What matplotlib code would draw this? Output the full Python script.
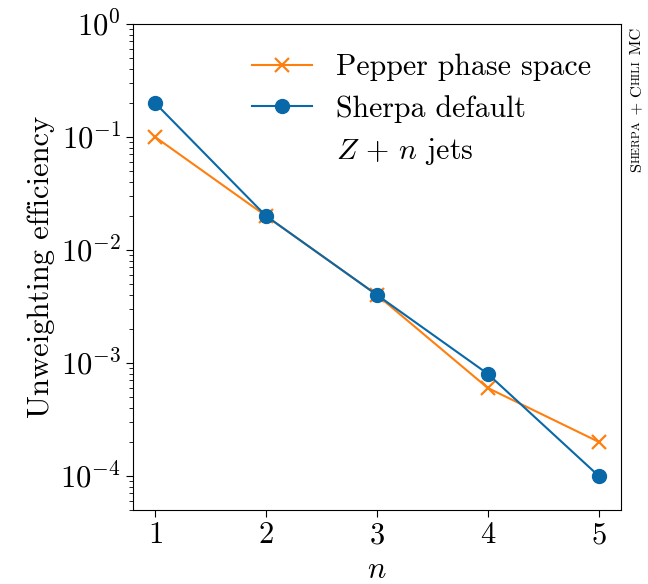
import matplotlib
matplotlib.use("Agg")
import matplotlib.pyplot as plt
from matplotlib.lines import Line2D

plt.rcParams["font.family"] = "cmr10"
plt.rcParams["mathtext.fontset"] = "cm"
plt.rcParams["axes.formatter.use_mathtext"] = True
plt.rcParams["font.size"] = 22
plt.rcParams["ytick.minor.size"] = 3
plt.rcParams["ytick.major.size"] = 5
plt.rcParams["xtick.major.size"] = 5

n_jets = [1, 2, 3, 4, 5]
pepper_eff = [0.1, 0.02, 0.004, 0.0006, 0.0002]
sherpa_eff = [0.2, 0.02, 0.004, 0.0008, 0.0001]

ORANGE = "#ff7f0e"
BLUE = "#0868a8"

fig = plt.figure(figsize=(6.48, 5.84), dpi=100)
ax = fig.add_axes([0.205, 0.127, 0.753, 0.832])

ax.plot(n_jets, pepper_eff, "-x", color=ORANGE, lw=1.5, ms=10, mew=1.6,
        label="Pepper phase space")
ax.plot(n_jets, sherpa_eff, "-o", color=BLUE, lw=1.5, ms=10,
        label="Sherpa default")

ax.set_yscale("log")
ax.set_ylim(5e-5, 1)
ax.set_xlim(0.8, 5.2)
ax.set_xticks(n_jets)
ax.set_xlabel(r"$n$", fontsize=22, labelpad=5.5)
ax.set_ylabel("Unweighting efficiency", fontsize=22)

handles, labels = ax.get_legend_handles_labels()
handles.append(Line2D([], [], color="none"))
labels.append(r"$Z\,+\,n$ jets")
ax.legend(handles, labels, loc="upper right", frameon=False, fontsize=21.5,
          handlelength=2.0, handletextpad=0.8, borderaxespad=0.6,
          labelspacing=0.45)

# small-caps tag on the right, built from pieces
pieces = [("S", 11.8), ("HERPA", 8.5), (" + ", 11.8), ("C", 11.8), ("HILI", 8.5),
          (" MC", 11.8)]
renderer = fig.canvas.get_renderer()
texts = []
for s, fs in pieces:
    t = fig.text(0, 0, s, fontsize=fs, rotation=90, rotation_mode="anchor")
    texts.append(t)
heights = [t.get_window_extent(renderer).height for t in texts]
top = 584 - 28
y = top - sum(heights)
for t, h in zip(texts, heights):
    t.set_position((637 / 648, y / 584))
    t.set_ha("left")
    t.set_va("center")
    y += h

fig.savefig("out.png", dpi=100)
